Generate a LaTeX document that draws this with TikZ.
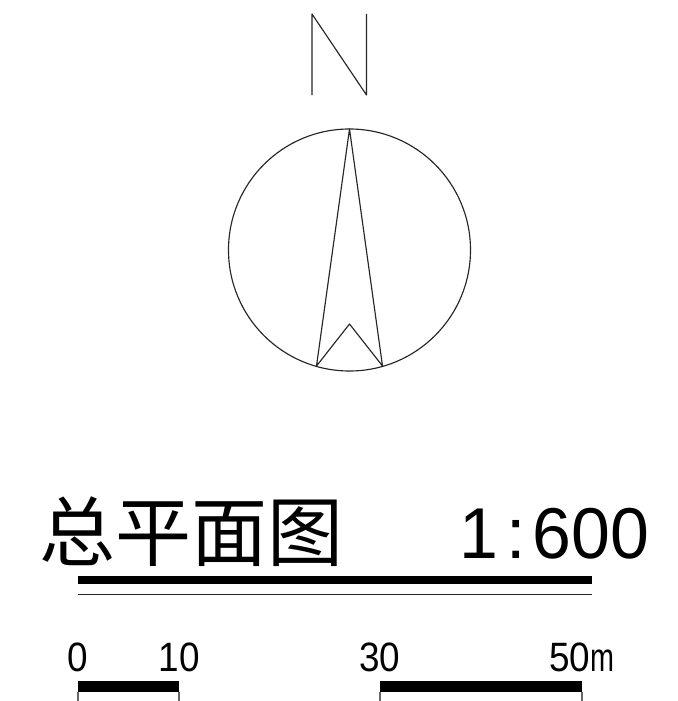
\documentclass[tikz,border=0pt]{standalone}
\usepackage{graphicx}
\usepackage{fontspec}
\setmainfont{Liberation Sans}
\newfontfamily\cjk{Noto Sans CJK SC}
\tikzset{
  thin line/.style={draw=black!85,line width=1.15pt,line join=round},
  solid bar/.style={fill=black,draw=none},
  tick/.style={draw=black!60,line width=1.1pt},
  scale label/.style={inner sep=0pt,anchor=base,xscale=0.9,font=\fontsize{41}{41}\selectfont},
}
\begin{document}
\begin{tikzpicture}[x=1pt,y=-1pt]
\useasboundingbox (0,0) rectangle (677,701);
% north letter
\draw[thin line] (312,95) -- (312,14) -- (366.5,95) -- (366.5,14);
% compass
\draw[thin line] (349.5,250) circle[radius=121];
\draw[thin line] (349.5,129) -- (316.5,366) -- (349.5,324) -- (382.5,366) -- cycle;
% title
\node[inner sep=0pt,anchor=base] (title) at (191,560) {\cjk\fontsize{76}{76}\selectfont 总平面图};
\node[inner sep=0pt,anchor=base west,xscale=0.97] (ratio) at (459,558) {\fontsize{72}{72}\selectfont 1\hspace{9pt}:\hspace{7pt}600};
\fill[solid bar] (78,576) rectangle (592,584);
\draw[thin line] (78,594.5) -- (592,594.5);
% scale
\node[scale label] (s0) at (77.5,671) {0};
\node[scale label] (s10) at (179.5,671) {10};
\node[scale label] (s30) at (380,671) {30};
\node[scale label,anchor=base west] (s50) at (549,671) {50\scalebox{0.78}[0.98]{m}};
\fill[solid bar] (78,681) rectangle (179,692);
\fill[solid bar] (380,681) rectangle (582,692);
\draw[tick] (78,692) -- (78,701);
\draw[tick] (179,692) -- (179,701);
\draw[tick] (380,692) -- (380,701);
\draw[tick] (582,692) -- (582,701);
\end{tikzpicture}
\end{document}
